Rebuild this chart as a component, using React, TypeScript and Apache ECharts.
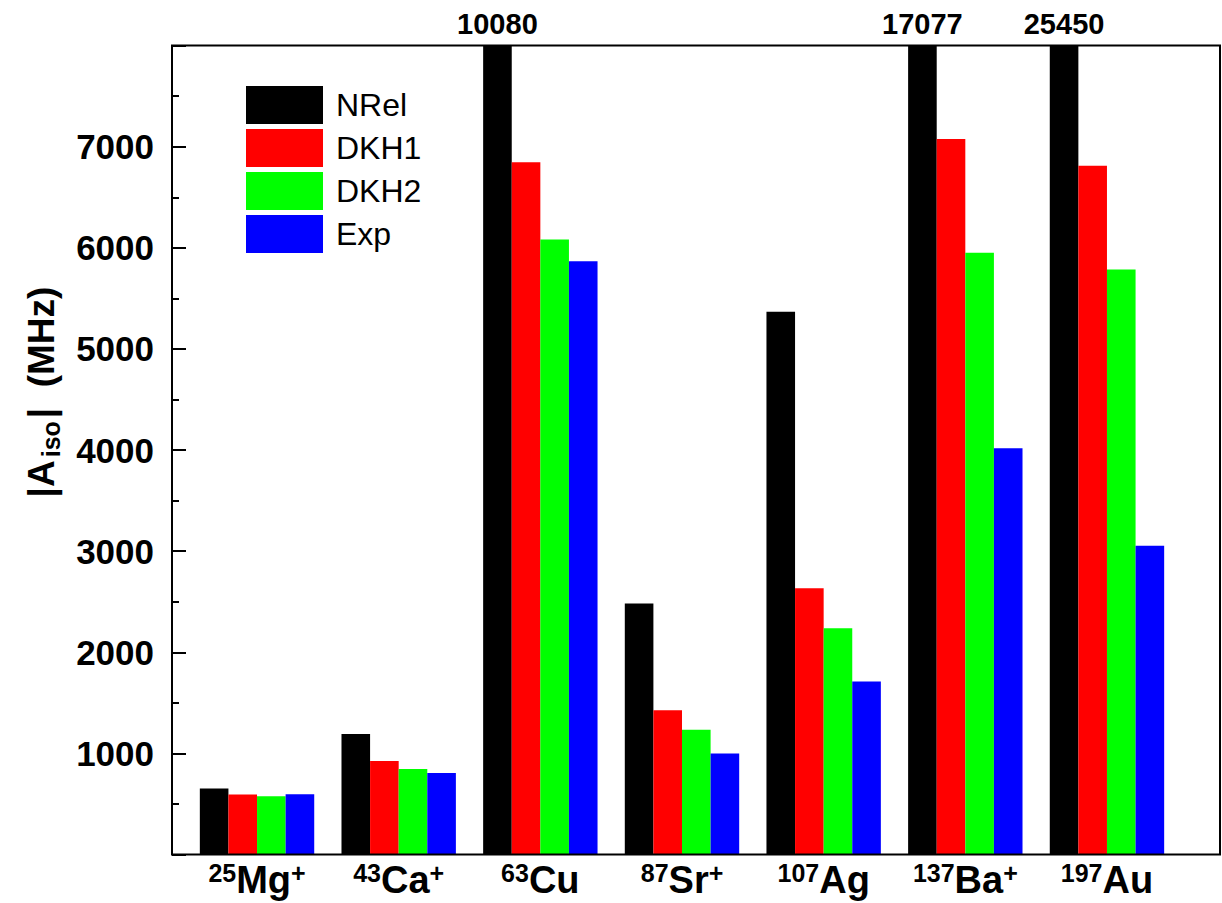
import React, { useEffect, useRef } from 'react';
import * as echarts from 'echarts';

const categories = ['25Mg+', '43Ca+', '63Cu', '87Sr+', '107Ag', '137Ba+', '197Au'];
const seriesNames = ['NRel', 'DKH1', 'DKH2', 'Exp'];
const nrel = [653, 1192, 10080, 2484, 5368, 17077, 25450];
const dkh1 = [594, 926, 6847, 1428, 2635, 7076, 6813];
const dkh2 = [576, 847, 6082, 1234, 2239, 5951, 5787];
const expv = [596, 806, 5867, 1000, 1712, 4019, 3053];
const seriesValues = [nrel, dkh1, dkh2, expv];
const colors = ['#000000', '#ff0000', '#00ff00', '#0000ff'];
const yMin = 0;
const yMax = 8000;
const yInterval = 1000;

const FONT = "'Liberation Sans', Arial, Helvetica, sans-serif";

// layout (pixels)
const FRAME_L = 172;
const FRAME_R = 1220;
const FRAME_T = 45.6;
const FRAME_B = 854.6;
const BAND_L = 186.2;
const BAND_R = 1177.8;

export default function App() {
  const ref = useRef<HTMLDivElement>(null);
  useEffect(() => {
    if (!ref.current) return;
    const chart = echarts.init(ref.current, undefined, { renderer: 'svg' });
    const series = seriesNames.map((name, si) => ({
      name,
      type: 'bar',
      barWidth: 28.6,
      barGap: '0%',
      clip: true,
      itemStyle: { color: colors[si] },
      data: seriesValues[si].map((v) =>
        v > yMax
          ? {
              value: v,
              label: {
                show: true,
                position: 'top',
                distance: 7,
                formatter: String(v),
                fontSize: 29,
                fontWeight: 'bold',
                fontFamily: FONT,
                color: '#000',
              },
            }
          : v
      ),
    }));
    chart.setOption({
      animation: false,
      backgroundColor: '#ffffff',
      grid: {
        left: BAND_L,
        width: BAND_R - BAND_L,
        top: FRAME_T,
        height: FRAME_B - FRAME_T,
        containLabel: false,
      },
      legend: {
        data: seriesNames,
        orient: 'vertical',
        left: 246,
        top: 86,
        padding: 0,
        itemWidth: 77,
        itemHeight: 38,
        itemGap: 5,
        icon: 'rect',
        textStyle: {
          fontSize: 32,
          fontFamily: FONT,
          color: '#000',
          padding: [0, 0, 0, 8],
        },
      },
      xAxis: {
        type: 'category',
        data: categories,
        axisLine: { show: false },
        axisTick: { show: false },
        axisLabel: {
          margin: 6,
          interval: 0,
          formatter: (val: string) => {
            const m = /^(\d+)([A-Za-z]+)(\+?)$/.exec(val);
            if (!m) return val;
            return '{sup|' + m[1] + '}{main|' + m[2] + '}' + (m[3] ? '{sup|' + m[3] + '}' : '');
          },
          rich: {
            main: {
              fontSize: 38,
              fontWeight: 'bold',
              fontFamily: FONT,
              color: '#000',
              lineHeight: 38,
              verticalAlign: 'bottom',
              padding: [3, 0, 0, 0],
            },
            sup: {
              fontSize: 25,
              fontWeight: 'bold',
              fontFamily: FONT,
              color: '#000',
              lineHeight: 25,
              verticalAlign: 'top',
            },
          },
        },
      },
      yAxis: {
        type: 'value',
        min: yMin,
        max: yMax,
        interval: yInterval,
        offset: BAND_L - FRAME_L,
        axisLine: { show: false },
        splitLine: { show: false },
        axisTick: {
          show: true,
          inside: true,
          length: 14,
          lineStyle: { color: '#000', width: 2 },
        },
        minorTick: {
          show: true,
          splitNumber: 2,
          length: 7,
          lineStyle: { color: '#000', width: 2 },
        },
        axisLabel: {
          margin: 18,
          fontSize: 35,
          fontWeight: 'bold',
          fontFamily: FONT,
          color: '#000',
          formatter: (v: number) => (v === yMin || v === yMax ? '' : String(v)),
        },
      },
      graphic: [
        {
          type: 'rect',
          z: 100,
          shape: { x: FRAME_L, y: FRAME_T, width: FRAME_R - FRAME_L, height: FRAME_B - FRAME_T },
          style: { fill: 'none', stroke: '#000', lineWidth: 2 },
          silent: true,
        },
        {
          type: 'text',
          x: 41,
          y: 392,
          rotation: Math.PI / 2,
          style: {
            text: '{m||A}{s|iso}{m||  (MHz)}',
            align: 'center',
            verticalAlign: 'middle',
            fill: '#000',
            rich: {
              m: {
                fontSize: 37,
                fontWeight: 'bold',
                fontFamily: FONT,
                fill: '#000',
                lineHeight: 37,
                verticalAlign: 'top',
              },
              s: {
                fontSize: 25,
                fontWeight: 'bold',
                fontFamily: FONT,
                fill: '#000',
                lineHeight: 25,
                verticalAlign: 'top',
                padding: [16, 3, 0, 3],
              },
            },
          },
        },
      ],
      series,
    });
    return () => chart.dispose();
  }, []);
  return (
    <div
      ref={ref}
      style={{ position: 'absolute', left: 0, top: 0, width: 1222, height: 903 }}
    />
  );
}
